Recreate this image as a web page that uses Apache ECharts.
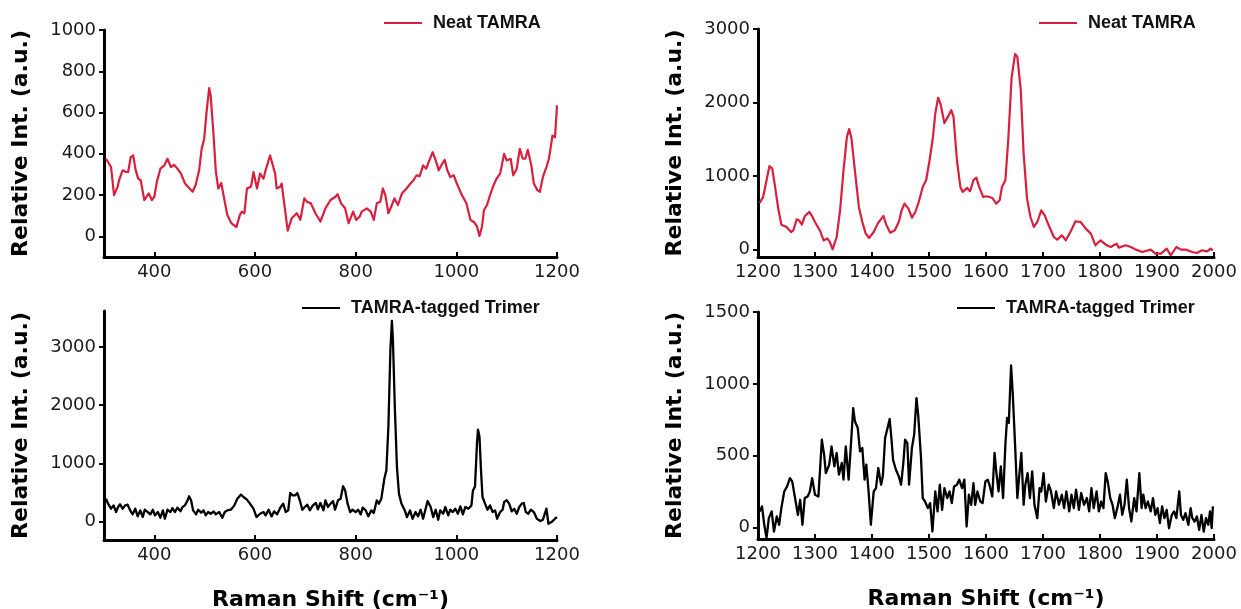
<!DOCTYPE html>
<html>
<head>
<meta charset="utf-8">
<script src="https://cdn.jsdelivr.net/npm/echarts@6/dist/echarts.min.js"></script>
<style>
  html, body { margin: 0; padding: 0; background: #ffffff; }
  #chart { width: 1241px; height: 609px; }
</style>
</head>
<body>
<div id="chart"></div>
<script>
// Raman spectra: neat TAMRA (red) and TAMRA-tagged trimer (black),
// split into a low-shift window (300-1200 cm-1) and a high-shift window (1200-2000 cm-1).

const seriesNames = ['Neat TAMRA', 'TAMRA-tagged Trimer'];

// Neat TAMRA, 300-1200 cm-1
const neatLowShift = [304,314,320,327,330,337,344,348,353,358,363,368,373,380,389,395,400,405,412,420,426,433,439,446,453,461,467,476,482,489,494,499,504,509,512,518,522,527,533,538,545,553,563,570,574,579,584,592,597,604,610,617,621,630,633,640,643,650,653,658,665,673,683,690,698,703,711,720,730,740,750,760,764,771,779,786,795,801,808,812,822,830,836,842,849,854,859,865,872,877,884,892,901,909,915,921,927,934,940,945,953,959,965,972,977,982,988,995,1001,1011,1020,1028,1036,1041,1046,1051,1055,1061,1067,1074,1080,1087,1095,1100,1108,1113,1120,1126,1132,1137,1142,1149,1154,1161,1166,1172,1179,1184,1191,1196,1199,1200];
const neatLowInt = [376,336,200,240,272,320,312,312,384,392,320,280,272,176,208,176,192,264,328,344,376,336,347,328,304,256,240,216,248,320,424,472,608,718,680,480,320,232,259,192,104,64,45,104,120,112,232,240,312,232,304,280,320,392,384,304,232,240,256,160,28,88,112,80,184,168,160,112,72,136,176,192,205,160,136,64,120,80,96,120,136,120,80,160,168,232,200,112,152,184,152,208,232,256,272,296,291,344,328,360,408,368,320,352,371,320,288,296,256,200,160,80,67,48,2,48,128,152,200,248,280,304,400,368,376,296,328,424,376,376,419,344,256,224,216,288,336,376,488,480,592,635];

// Neat TAMRA, 1200-2000 cm-1
const neatHighShift = [1203,1209,1215,1220,1225,1230,1236,1241,1250,1258,1262,1268,1272,1277,1282,1290,1294,1300,1309,1315,1322,1326,1331,1338,1344,1350,1356,1360,1364,1370,1377,1383,1389,1395,1403,1410,1420,1425,1432,1440,1447,1452,1457,1464,1470,1476,1482,1489,1495,1501,1507,1511,1516,1520,1527,1533,1539,1543,1549,1555,1559,1567,1572,1578,1583,1588,1595,1602,1611,1618,1624,1628,1634,1639,1645,1651,1655,1661,1666,1672,1678,1684,1690,1697,1703,1710,1719,1725,1733,1740,1749,1757,1766,1775,1784,1792,1801,1810,1819,1829,1833,1845,1854,1863,1874,1889,1897,1907,1917,1924,1934,1942,1950,1962,1970,1979,1988,1994,1998];
const neatHighInt = [635,717,943,1135,1102,853,535,340,308,240,263,413,399,340,453,512,467,376,254,127,150,104,5,172,535,1079,1533,1640,1510,1079,580,376,218,159,240,354,458,340,231,263,376,535,626,558,435,512,648,853,943,1215,1533,1850,2065,1986,1723,1805,1896,1805,1215,853,785,839,794,943,980,853,717,726,703,626,671,853,943,1487,2349,2660,2621,2168,1306,694,444,308,376,535,467,331,172,136,195,127,254,385,376,286,218,59,127,68,36,82,27,59,36,0,-32,0,-54,-54,14,-77,36,0,0,-32,-45,-9,-23,14,-9];

// TAMRA-tagged Trimer, 300-1200 cm-1
const trimerLowShift = [304,308,314,319,324,328,332,337,342,347,352,357,362,367,372,377,381,387,392,397,401,407,412,417,421,426,432,436,441,446,452,456,461,466,469,473,477,483,487,493,498,502,507,512,518,522,529,535,540,545,552,559,565,572,577,584,590,597,603,610,617,621,627,633,638,644,651,656,661,666,670,675,680,684,689,694,699,704,709,715,721,725,730,736,740,745,750,755,759,765,770,775,779,784,789,794,800,805,810,814,820,825,831,836,842,846,851,857,861,865,869,872,874,878,882,886,891,897,902,908,913,919,924,929,934,939,943,949,954,959,964,968,974,978,984,988,993,998,1003,1008,1013,1018,1024,1030,1033,1037,1041,1043,1046,1049,1052,1057,1062,1067,1072,1077,1081,1087,1092,1095,1100,1105,1110,1115,1120,1125,1130,1134,1138,1143,1148,1154,1160,1167,1172,1179,1183,1189,1196,1200];
const trimerLowInt = [391,305,219,276,161,248,294,219,276,288,190,121,219,86,190,75,201,161,121,201,104,161,63,190,46,201,161,230,161,236,173,248,276,363,432,363,190,121,201,150,190,104,161,132,173,121,161,63,161,190,201,276,391,461,420,374,305,219,75,132,161,104,201,86,173,121,248,305,161,190,489,449,449,489,363,201,248,288,190,276,317,207,317,190,363,248,305,351,201,363,391,605,535,305,161,201,161,201,121,236,190,86,190,144,363,305,391,737,881,1629,2953,3450,3126,1917,938,478,305,201,75,190,46,161,86,201,46,219,351,248,75,201,29,190,132,248,104,201,161,219,132,259,121,248,219,276,535,593,1341,1580,1457,881,420,305,201,276,161,190,46,161,201,334,363,305,173,219,132,248,305,317,161,132,201,161,46,6,29,219,-40,-12,46,75];

// TAMRA-tagged Trimer, 1200-2000 cm-1
const trimerHighShift = [1203,1207,1211,1215,1219,1224,1228,1233,1237,1241,1246,1251,1256,1260,1265,1270,1274,1278,1282,1287,1291,1295,1300,1306,1312,1316,1319,1325,1329,1334,1338,1342,1347,1350,1354,1359,1363,1367,1370,1375,1379,1383,1387,1390,1394,1398,1403,1407,1411,1416,1419,1423,1428,1431,1434,1437,1442,1447,1451,1455,1458,1462,1465,1470,1474,1478,1481,1486,1489,1493,1498,1502,1506,1511,1515,1519,1523,1527,1532,1536,1540,1544,1549,1553,1558,1562,1566,1570,1574,1578,1581,1585,1590,1594,1599,1603,1606,1611,1615,1618,1622,1626,1630,1634,1637,1640,1644,1647,1651,1655,1658,1662,1666,1669,1673,1677,1681,1685,1690,1694,1697,1701,1705,1710,1714,1719,1723,1728,1733,1737,1741,1746,1750,1754,1758,1763,1767,1772,1777,1781,1785,1789,1794,1798,1802,1806,1810,1814,1818,1822,1826,1831,1835,1839,1843,1847,1851,1855,1860,1864,1869,1873,1876,1880,1884,1889,1893,1897,1901,1905,1909,1913,1917,1921,1926,1930,1934,1939,1942,1946,1950,1955,1959,1962,1966,1970,1974,1978,1982,1986,1990,1993,1996,1998];
const trimerHighInt = [112,147,19,-74,65,112,-28,77,19,135,251,286,344,321,205,88,193,19,205,216,251,344,228,216,612,507,379,437,565,426,519,368,449,333,565,333,577,830,740,693,530,553,333,437,251,19,251,274,414,298,356,623,705,755,623,470,402,356,298,449,612,588,298,553,647,900,786,484,205,181,135,170,-28,251,112,298,123,274,205,251,170,286,298,333,274,333,7,228,158,309,158,251,181,170,321,333,298,216,519,391,251,426,205,577,763,728,1128,926,577,205,344,519,158,298,379,205,391,158,65,274,251,379,181,298,251,135,251,158,228,135,251,112,228,135,263,123,240,158,205,112,274,135,251,112,181,135,379,309,205,158,65,147,228,88,158,333,135,42,205,112,379,135,228,135,181,112,205,88,135,30,147,65,123,-5,88,112,65,251,88,53,100,19,135,65,42,77,-16,88,-28,65,19,112,-5,147];

// Axis tick positions
const lowShiftTicks = [400, 600, 800, 1000, 1200];
const highShiftTicks = [1200, 1300, 1400, 1500, 1600, 1700, 1800, 1900, 2000];
const neatLowTicks = [0, 200, 400, 600, 800, 1000];
const neatHighTicks = [0, 1000, 2000, 3000];
const trimerLowTicks = [0, 1000, 2000, 3000];
const trimerHighTicks = [0, 500, 1000, 1500];

const RED = '#d91f3d';
const BLACK = '#000000';
const AXIS_COLOR = '#000000';
const TICK_FONT = 'DejaVu Sans';

function zip(xs, ys) {
  return xs.map((x, i) => [x, ys[i]]);
}

// plain integers, no thousands separators
function plainNumber(v) {
  return String(Math.round(v));
}

function xAxisFor(gridIndex, min, max, ticks, withName) {
  return {
    type: 'value',
    gridIndex: gridIndex,
    min: min,
    max: max,
    name: withName ? 'Raman Shift (cm\u207B\u00B9)' : '',
    nameLocation: 'middle',
    nameGap: 49,
    nameTextStyle: { fontFamily: TICK_FONT, fontWeight: 'bold', fontSize: 22, color: '#000' },
    axisLine: { show: true, onZero: false, lineStyle: { color: AXIS_COLOR, width: 3 } },
    axisTick: { show: true, inside: true, length: 5, customValues: ticks, lineStyle: { color: AXIS_COLOR, width: 2 } },
    axisLabel: { show: true, margin: 6, customValues: ticks, formatter: plainNumber, fontFamily: TICK_FONT, fontSize: 18, color: '#1a1a1a' },
    splitLine: { show: false }
  };
}

function yAxisFor(gridIndex, min, max, ticks) {
  return {
    type: 'value',
    gridIndex: gridIndex,
    min: min,
    max: max,
    name: 'Relative Int. (a.u.)',
    nameLocation: 'middle',
    nameGap: 72,
    nameTextStyle: { fontFamily: TICK_FONT, fontWeight: 'bold', fontSize: 22, color: '#000' },
    axisLine: { show: true, onZero: false, lineStyle: { color: AXIS_COLOR, width: 3 } },
    axisTick: { show: true, inside: false, length: 5, customValues: ticks, lineStyle: { color: AXIS_COLOR, width: 2 } },
    axisLabel: { show: true, margin: 8, customValues: ticks, formatter: plainNumber, fontFamily: TICK_FONT, fontSize: 18, color: '#1a1a1a' },
    splitLine: { show: false }
  };
}

function legendFor(name, left, top) {
  return {
    show: true,
    data: [name],
    left: left,
    top: top,
    orient: 'horizontal',
    icon: 'rect',
    itemWidth: 38,
    itemHeight: 2,
    selectedMode: false,
    textStyle: {
      fontFamily: 'Liberation Sans',
      fontWeight: 'bold',
      fontSize: 18,
      color: '#111',
      padding: [0, 0, 0, 6]
    }
  };
}

function lineSeries(name, xi, yi, data, color, width) {
  return {
    name: name,
    type: 'line',
    xAxisIndex: xi,
    yAxisIndex: yi,
    data: data,
    symbol: 'none',
    showSymbol: false,
    smooth: false,
    clip: true,
    animation: false,
    lineStyle: { color: color, width: width, join: 'round' },
    itemStyle: { color: color }
  };
}

function gridAt(left, top, width, height) {
  return { left: left, top: top, width: width, height: height, containLabel: false, outerBoundsMode: 'none' };
}

const chart = echarts.init(document.getElementById('chart'), null, { renderer: 'canvas' });

chart.setOption({
  backgroundColor: '#ffffff',
  animation: false,
  grid: [
    gridAt(104, 30, 453, 227),
    gridAt(758, 29, 456, 228),
    gridAt(104, 311, 453, 229),
    gridAt(758, 312, 456, 227)
  ],
  xAxis: [
    xAxisFor(0, 300, 1200, lowShiftTicks, false),
    xAxisFor(1, 1200, 2000, highShiftTicks, false),
    xAxisFor(2, 300, 1200, lowShiftTicks, true),
    xAxisFor(3, 1200, 2000, highShiftTicks, true)
  ],
  yAxis: [
    yAxisFor(0, -100, 1000, neatLowTicks),
    yAxisFor(1, -100, 3000, neatHighTicks),
    yAxisFor(2, -320, 3620, trimerLowTicks),
    yAxisFor(3, -80, 1500, trimerHighTicks)
  ],
  legend: [
    legendFor(seriesNames[0], 379, 9),
    legendFor(seriesNames[0], 1034, 9),
    legendFor(seriesNames[1], 297, 294),
    legendFor(seriesNames[1], 952, 294)
  ],
  series: [
    lineSeries(seriesNames[0], 0, 0, zip(neatLowShift, neatLowInt), RED, 2.2),
    lineSeries(seriesNames[0], 1, 1, zip(neatHighShift, neatHighInt), RED, 2.2),
    lineSeries(seriesNames[1], 2, 2, zip(trimerLowShift, trimerLowInt), BLACK, 2.3),
    lineSeries(seriesNames[1], 3, 3, zip(trimerHighShift, trimerHighInt), BLACK, 2.3)
  ]
});
</script>
</body>
</html>
